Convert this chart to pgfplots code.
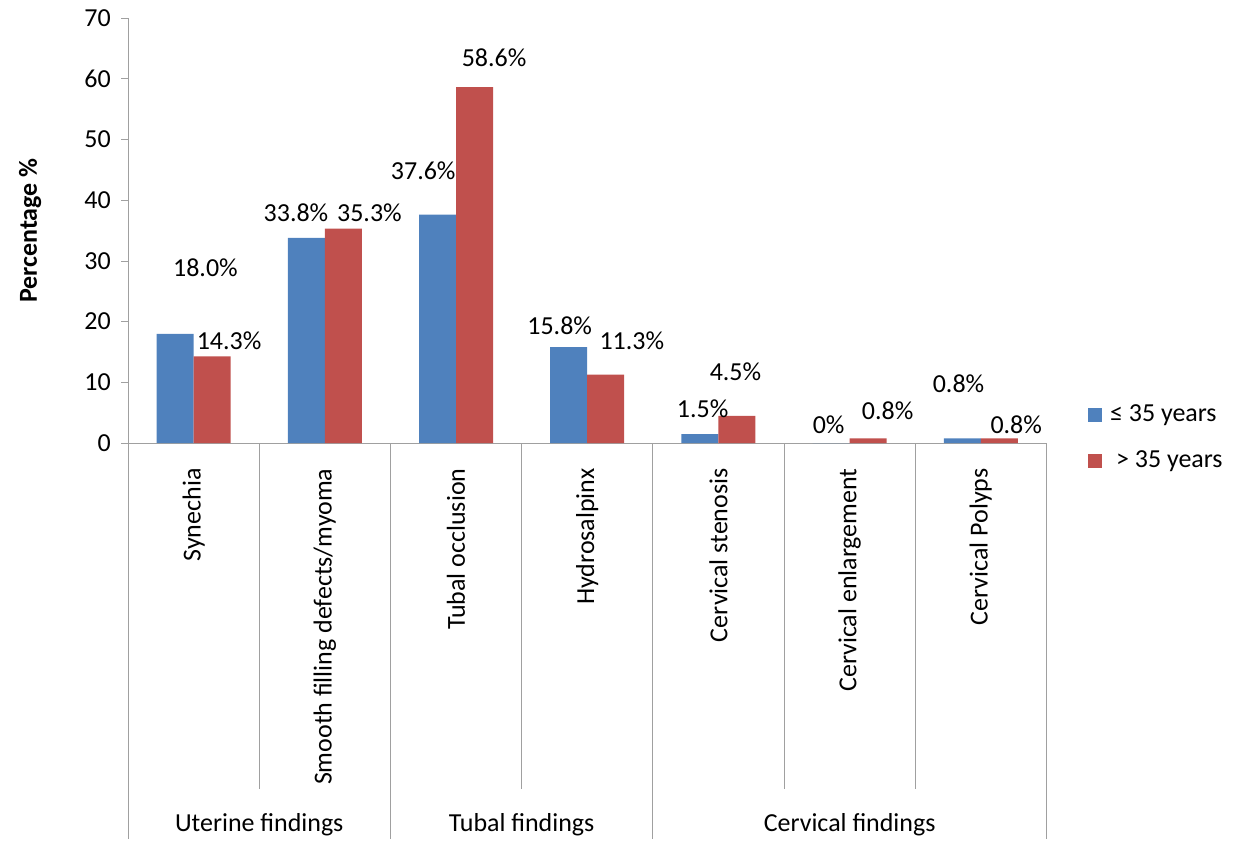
\documentclass[border=0pt]{standalone}
\usepackage{fontspec}
\setmainfont{Carlito}
\usepackage{pgfplots}
\pgfplotsset{compat=1.18}
\definecolor{exblue}{HTML}{4F81BD}
\definecolor{exred}{HTML}{C0504D}
\definecolor{axgray}{HTML}{A0A0A0}
\begin{document}
\begin{tikzpicture}[font=\fontsize{13}{15.6}\selectfont]
\begin{axis}[
  scale only axis, width=460pt, height=213pt,
  xmin=-0.5, xmax=6.5, ymin=0, ymax=70,
  axis lines*=left,
  axis line style={draw=axgray},
  ytick={0,10,...,70},
  y tick style={draw=axgray},
  tick align=outside,
  major tick length=3.5pt,
  xtick={0,...,6},
  xticklabels={Synechia, Smooth filling defects/myoma, Tubal occlusion, Hydrosalpinx, Cervical stenosis, Cervical enlargement, Cervical Polyps},
  x tick style={draw=none},
  xticklabel style={rotate=90, anchor=east, inner sep=0pt},
  xticklabel shift=9pt,
  yticklabel style={inner sep=0pt},
  yticklabel shift=5pt,
  /pgf/number format/assume math mode=true,
  ylabel={Percentage \%},
  ylabel style={at={(axis description cs:-0.1065,0.5)}, rotate=0, anchor=center, font=\fontsize{13}{15}\selectfont\bfseries},
  clip=false,
  legend style={draw=none, fill=none, at={(axis description cs:1.045,0.013)}, anchor=west,
    row sep=9pt, inner sep=0pt, legend cell align=left},
  legend image code/.code={\path[#1] (0pt,-3.5pt) rectangle (7pt,3.5pt);},
]
\addplot[ybar, bar width=0.282, bar shift=-0.141, fill=exblue, draw=none]
  coordinates {(0,18.0) (1,33.8) (2,37.6) (3,15.8) (4,1.5) (5,0) (6,0.8)};
\addlegendentry{\hspace{2pt}≤ 35 years}
\addplot[ybar, bar width=0.282, bar shift=0.141, fill=exred, draw=none]
  coordinates {(0,14.3) (1,35.3) (2,58.6) (3,11.3) (4,4.5) (5,0.8) (6,0.8)};
\addlegendentry{\hspace{5pt}> 35 years}

\node at (axis cs:0.09,28.9) {18.0\%};
\node at (axis cs:0.27,16.9) {14.3\%};
\node at (axis cs:0.78,38.0) {33.8\%};
\node at (axis cs:1.34,38.0) {35.3\%};
\node at (axis cs:1.75,44.9) {37.6\%};
\node at (axis cs:2.29,63.4) {58.6\%};
\node at (axis cs:2.79,19.4) {15.8\%};
\node at (axis cs:3.34,16.8) {11.3\%};
\node at (axis cs:3.88,5.6) {1.5\%};
\node at (axis cs:4.13,11.7) {4.5\%};
\node at (axis cs:4.84,3.0) {0\%};
\node at (axis cs:5.29,5.4) {0.8\%};
\node at (axis cs:5.83,9.7) {0.8\%};
\node at (axis cs:6.27,3.0) {0.8\%};

\draw[axgray] (axis cs:-0.5,0) -- (axis cs:-0.5,-65.1);
\draw[axgray] (axis cs:1.5,0) -- (axis cs:1.5,-65.1);
\draw[axgray] (axis cs:3.5,0) -- (axis cs:3.5,-65.1);
\draw[axgray] (axis cs:6.5,0) -- (axis cs:6.5,-65.1);
\draw[axgray] (axis cs:0.5,0) -- (axis cs:0.5,-56.9);
\draw[axgray] (axis cs:2.5,0) -- (axis cs:2.5,-56.9);
\draw[axgray] (axis cs:4.5,0) -- (axis cs:4.5,-56.9);
\draw[axgray] (axis cs:5.5,0) -- (axis cs:5.5,-56.9);

\node at (axis cs:0.5,-62.8) {Uterine findings};
\node at (axis cs:2.5,-62.8) {Tubal findings};
\node at (axis cs:5.0,-62.8) {Cervical findings};

\path (axis cs:-1.476,72.95) rectangle (axis cs:7.968,-65.9);
\end{axis}
\end{tikzpicture}
\end{document}
